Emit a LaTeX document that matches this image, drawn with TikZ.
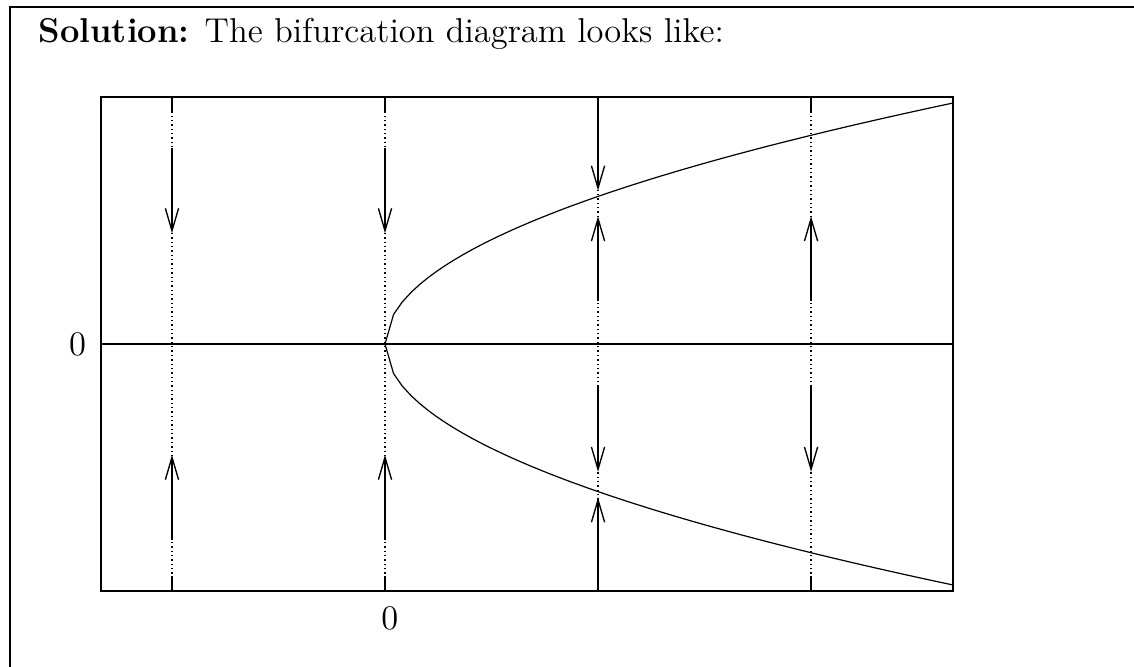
\documentclass[tikz,border=0pt]{standalone}
\usepackage{tikz}
\usetikzlibrary{arrows.meta}

\begin{document}
\begin{tikzpicture}[x=0.3333pt,y=-0.3333pt,
  flow/.style={-{Straight Barb[length=7.5pt,width=4.4pt]},line width=0.45pt},
  tickmark/.style={line width=0.8pt},
  gridline/.style={densely dotted,line width=0.45pt},
  lbl/.style={inner sep=0pt,font=\fontsize{11.5}{14}\selectfont}]
\useasboundingbox (0,0) rectangle (1134,667);
\clip (0,0) rectangle (1134,667);
\draw[line width=0.8pt] (10,7) rectangle (1200,720);
\node[lbl,anchor=base west] (title) at (38,42) {\textbf{Solution:} The bifurcation diagram looks like:};
% plot in data coordinates
\begin{scope}[shift={(385,344)},x=94.67pt,y=56.8pt]
\draw[line width=0.4pt] (-1,0) -- (2,0);
\foreach \xv in {-0.75,0,0.75,1.5} {
  \draw[gridline] (\xv,-1.45) -- (\xv,1.45);
  \draw[tickmark] (\xv,-1.45) -- ++(0pt,5pt);
  \draw[tickmark] (\xv,1.45) -- ++(0pt,-5pt);
}
\draw[tickmark] (-1,0) -- ++(5pt,0pt);
\draw[tickmark] (2,0) -- ++(-5pt,0pt);
\draw[line width=0.4pt] plot[domain=0:2,samples=67] (\x,{sqrt(\x)});
\draw[line width=0.4pt] plot[domain=0:2,samples=67] (\x,{-sqrt(\x)});
\draw[line width=0.7pt] (-1,-1.45) rectangle (2,1.45);
\foreach \xv in {-0.75,0} {
  \draw[flow] (\xv,1.15) -- (\xv,0.65);
  \draw[flow] (\xv,-1.15) -- (\xv,-0.65);
}
\draw[flow] (0.75,1.4) -- (0.75,0.9);
\draw[flow] (0.75,-1.4) -- (0.75,-0.9);
\foreach \xv in {0.75,1.5} {
  \draw[flow] (\xv,0.25) -- (\xv,0.75);
  \draw[flow] (\xv,-0.25) -- (\xv,-0.75);
}
\node[lbl,anchor=east] (ylabel) at ([xshift=-4.8pt]-1,0) {0};
\node[lbl,anchor=north] (xlabel) at ([xshift=1.6pt,yshift=-5pt]0,-1.45) {0};
\end{scope}
\end{tikzpicture}
\end{document}
